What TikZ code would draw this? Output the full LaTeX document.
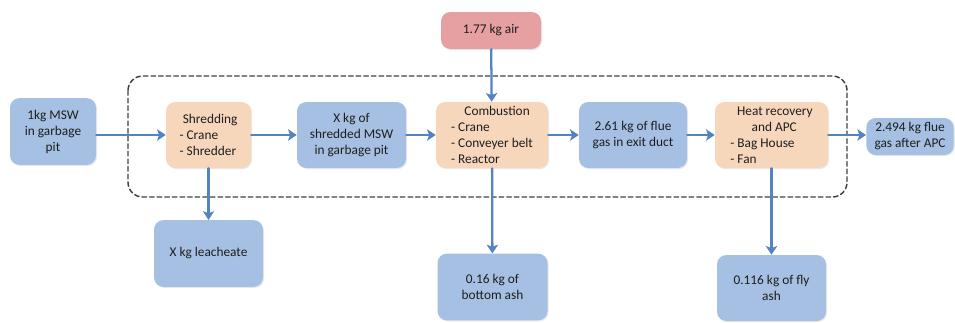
\documentclass[tikz,border=0pt]{standalone}
\usepackage{fontspec}
\setmainfont{Carlito}
\usetikzlibrary{arrows.meta,shadows}
\definecolor{boxblue}{RGB}{165,192,226}
\definecolor{boxtan}{RGB}{246,215,188}
\definecolor{boxred}{RGB}{230,160,162}
\definecolor{flowblue}{RGB}{84,132,192}
\definecolor{inktext}{RGB}{30,30,30}

\begin{document}
\begin{tikzpicture}[x=0.75pt,y=-0.75pt,line cap=round,line join=round,
  font=\fontsize{10}{12}\selectfont,text=inktext,
  basebox/.style={rounded corners=7pt,inner sep=2pt,align=center,
    drop shadow={opacity=0.18,shadow xshift=0.8pt,shadow yshift=-0.8pt}},
  bluebox/.style={basebox,fill=boxblue},
  tanbox/.style={basebox,fill=boxtan,align=left},
  airbox/.style={basebox,fill=boxred},
  flow/.style={-{Stealth[length=6.5pt,width=8.5pt,inset=1.5pt]},flowblue,line width=1.7pt}]
\useasboundingbox (0,0) rectangle (955,322);

% boundary of the plant
\draw[black!75,line width=1.1pt,dash pattern=on 3.4pt off 2.3pt,rounded corners=11pt]
  (128,76) rectangle (847,197);

% main line
\node[bluebox,minimum width=64.5pt,minimum height=50pt] (msw) at (53,131.5) {1kg MSW\\in garbage\\pit};
\node[tanbox,minimum width=63.75pt,minimum height=49.5pt] (shred) at (208.5,135)
  {\hspace*{2.5pt}Shredding\\- Crane\\- Shredder};
\node[bluebox,minimum width=81.75pt,minimum height=49.5pt] (shredpit) at (351.5,135)
  {X kg of\\shredded MSW\\in garbage pit};
\node[tanbox,minimum width=84pt,minimum height=49.5pt] (comb) at (492,135)
  {\hspace*{10pt}Combustion\\- Crane\\- Conveyer belt\\- Reactor};
\node[bluebox,minimum width=81pt,minimum height=49.5pt] (flue) at (633,135)
  {2.61 kg of flue\\gas in exit duct};
\node[tanbox,minimum width=84.75pt,minimum height=49.5pt] (heat) at (771.5,135)
  {\hspace*{5pt}Heat recovery\\\hspace*{16pt}and APC\\- Bag House\\- Fan};
\node[bluebox,minimum width=65.5pt,minimum height=27.75pt] (stack) at (910,136.5)
  {2.494 kg flue\\gas after APC};

% inputs and residues
\node[airbox,minimum width=75pt,minimum height=27.75pt] (air) at (491,30.5) {1.77 kg air};
\node[bluebox,minimum width=81.75pt,minimum height=50pt] (leach) at (208.5,253.5) {X kg leacheate};
\node[bluebox,minimum width=82.5pt,minimum height=50pt] (botash) at (492.5,287) {0.16 kg of\\bottom ash};
\node[bluebox,minimum width=81.75pt,minimum height=49.5pt] (flyash) at (771.5,288) {0.116 kg of fly\\ash};

\draw[flow] (msw.east |- shred) -- (shred);
\draw[flow] (shred) -- (shredpit);
\draw[flow] (shredpit) -- (comb);
\draw[flow] (comb) -- (flue);
\draw[flow] (flue) -- (heat);
\draw[flow] (heat) -- (stack.west |- heat);
\draw[flow] (air) -- (comb);
\draw[flow] (shred) -- (leach);
\draw[flow] (comb) -- (botash);
\draw[flow] (heat) -- (flyash);
\end{tikzpicture}
\end{document}
